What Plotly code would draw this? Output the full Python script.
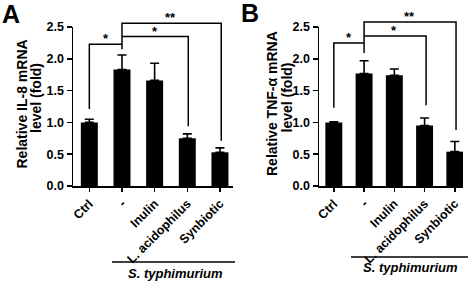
import plotly.graph_objects as go

# ---------------- data ----------------
categories = ["Ctrl", "-", "Inulin", "L. acidophilus", "Synbiotic"]
il8_mean = [1.00, 1.83, 1.66, 0.75, 0.53]
il8_err = [0.05, 0.23, 0.27, 0.07, 0.07]
tnf_mean = [1.00, 1.77, 1.74, 0.95, 0.54]
tnf_err = [0.01, 0.20, 0.10, 0.12, 0.16]
y_ticks = [0.0, 0.5, 1.0, 1.5, 2.0, 2.5]
y_tick_labels = ["0.0", "0.5", "1.0", "1.5", "2.0", "2.5"]

# significance brackets (x in category index units, y in fold)
a_br1_x, a_br1_y = [0, 0, 1], [1.21, 2.23, 2.23]
a_br2_x, a_br2_y = [1, 3.03, 3.03], [2.35, 2.35, 0.94]
a_br3_x, a_br3_y = [1, 1, 4.04, 4.04], [2.15, 2.56, 2.56, 0.71]
a_star_x, a_star_y, a_star_t = [0.5, 2.0, 2.5], [2.23, 2.35, 2.56], ["*", "*", "**"]

b_br1_x, b_br1_y = [0, 0, 1], [1.23, 2.25, 2.25]
b_br2_x, b_br2_y = [1, 3.05, 3.05], [2.36, 2.36, 1.27]
b_br3_x, b_br3_y = [1, 1, 4.04, 4.04], [2.09, 2.58, 2.58, 0.88]
b_star_x, b_star_y, b_star_t = [0.5, 2.0, 2.5], [2.25, 2.36, 2.58], ["*", "*", "**"]

panel_letters = ["A", "B"]
y_titles_a = ["Relative IL-8 mRNA", "level (fold)"]
y_titles_b = ["Relative TNF-α mRNA", "level (fold)"]
group_label = "S. typhimurium"

# ---------------- layout constants ----------------
W, H = 472, 282
FONT = "Liberation Sans, Arial, Helvetica, sans-serif"
Y_MAX = 2.5
Y_EXT = 2.66
yd0 = (H - 186) / H
yd1 = (H - 27) / H
k = (yd1 - yd0) / Y_MAX
yd_ext = yd0 + k * Y_EXT

xa_dom = [73 / W, 233 / W]
xb_dom = [319 / W, 463 / W]
xa_rng = [-0.5, 4.4]
xb_rng = [-0.49, 4.27]

xs = list(range(len(categories)))

fig = go.Figure()


def add_bars(mean, err, xaxis, yaxis, width):
    fig.add_trace(go.Bar(
        x=xs, y=mean, width=width, marker=dict(color="black", line=dict(width=0)),
        error_y=dict(type="data", array=err, arrayminus=[0] * len(err), symmetric=False,
                     color="black", thickness=1.6, width=4.5),
        xaxis=xaxis, yaxis=yaxis, showlegend=False, hoverinfo="skip"))


add_bars(il8_mean, il8_err, "x", "y", 0.52)
add_bars(tnf_mean, tnf_err, "x2", "y2", 0.56)


def add_line(x, y, xaxis, yaxis):
    fig.add_trace(go.Scatter(x=x, y=y, mode="lines", line=dict(color="black", width=1.5),
                             xaxis=xaxis, yaxis=yaxis, showlegend=False, hoverinfo="skip"))


for bx, by in [(a_br1_x, a_br1_y), (a_br2_x, a_br2_y), (a_br3_x, a_br3_y)]:
    add_line(bx, by, "x3", "y3")
for bx, by in [(b_br1_x, b_br1_y), (b_br2_x, b_br2_y), (b_br3_x, b_br3_y)]:
    add_line(bx, by, "x4", "y4")

annotations = []
for sx, sy, st, xr, yr in [(a_star_x, a_star_y, a_star_t, "x3", "y3"),
                           (b_star_x, b_star_y, b_star_t, "x4", "y4")]:
    for x, y, t in zip(sx, sy, st):
        annotations.append(dict(x=x, y=y, xref=xr, yref=yr, text=t, showarrow=False,
                                yanchor="bottom", yshift=-4,
                                font=dict(family=FONT, size=13, color="black", weight="bold")))

# y-axis titles (two lines each)
for (t1, t2), xc1, xc2 in [(y_titles_a, 21.5, 36), (y_titles_b, 272, 286.5)]:
    annotations.append(dict(x=xc1 / W, y=1 - 104 / H, xref="paper", yref="paper", text=t1,
                            textangle=-90, showarrow=False, xanchor="center", yanchor="middle",
                            font=dict(family=FONT, size=14, color="black", weight="bold")))
    annotations.append(dict(x=xc2 / W, y=1 - 98 / H, xref="paper", yref="paper", text=t2,
                            textangle=-90, showarrow=False, xanchor="center", yanchor="middle",
                            font=dict(family=FONT, size=14, color="black", weight="bold")))

# panel letters
for letter, px, py in zip(panel_letters, [11, 249.5], [14, 13]):
    annotations.append(dict(x=px / W, y=1 - py / H, xref="paper", yref="paper", text=letter,
                            showarrow=False, xanchor="center", yanchor="middle",
                            font=dict(family=FONT, size=25, color="black", weight="bold")))

# group labels
for xc, yc in [(175, 273), (410, 267)]:
    annotations.append(dict(x=xc / W, y=1 - yc / H, xref="paper", yref="paper",
                            text="<i>" + group_label + "</i>", showarrow=False,
                            xanchor="center", yanchor="middle",
                            font=dict(family=FONT, size=13, color="black", weight="bold")))

shapes = []
for x0, x1, yy in [(112, 235, 262), (351, 468, 257)]:
    shapes.append(dict(type="line", xref="paper", yref="paper", x0=x0 / W, x1=x1 / W,
                       y0=1 - yy / H, y1=1 - yy / H, line=dict(color="black", width=1.5)))

xaxis_common = dict(tickvals=xs, ticktext=categories, tickangle=-45, ticks="outside", ticklen=4,
                    tickwidth=1.5, tickcolor="black", showline=True, linewidth=1.5, linecolor="black",
                    showgrid=False, zeroline=False, automargin=False,
                    tickfont=dict(family=FONT, size=12.5, color="black", weight="bold"))
yaxis_common = dict(range=[0, Y_MAX], domain=[yd0, yd1], tickvals=y_ticks, ticktext=y_tick_labels,
                    ticks="outside", ticklen=5, tickwidth=1.5, tickcolor="black", showline=True,
                    linewidth=1.5, linecolor="black", showgrid=False, zeroline=False, automargin=False,
                    tickfont=dict(family=FONT, size=12.5, color="black", weight="bold"))
hidden_y = dict(range=[0, Y_EXT], domain=[yd0, yd_ext], visible=False, showgrid=False,
                zeroline=False, automargin=False)

fig.update_layout(
    width=W, height=H, margin=dict(l=0, r=0, t=0, b=0, autoexpand=False),
    paper_bgcolor="white", plot_bgcolor="rgba(0,0,0,0)",
    xaxis=dict(domain=xa_dom, range=xa_rng, anchor="y", **xaxis_common),
    yaxis=dict(anchor="x", **yaxis_common),
    xaxis2=dict(domain=xb_dom, range=xb_rng, anchor="y2", **xaxis_common),
    yaxis2=dict(anchor="x2", **yaxis_common),
    xaxis3=dict(domain=xa_dom, range=xa_rng, anchor="y3", visible=False, showgrid=False,
                zeroline=False, automargin=False),
    yaxis3=dict(anchor="x3", **hidden_y),
    xaxis4=dict(domain=xb_dom, range=xb_rng, anchor="y4", visible=False, showgrid=False,
                zeroline=False, automargin=False),
    yaxis4=dict(anchor="x4", **hidden_y),
    annotations=annotations, shapes=shapes, showlegend=False,
)

fig.write_html(
    "out.html",
    config={"displayModeBar": False, "staticPlot": True},
    post_script="document.body.style.margin='0';document.body.style.padding='0';"
                "document.body.style.overflow='hidden';",
)
